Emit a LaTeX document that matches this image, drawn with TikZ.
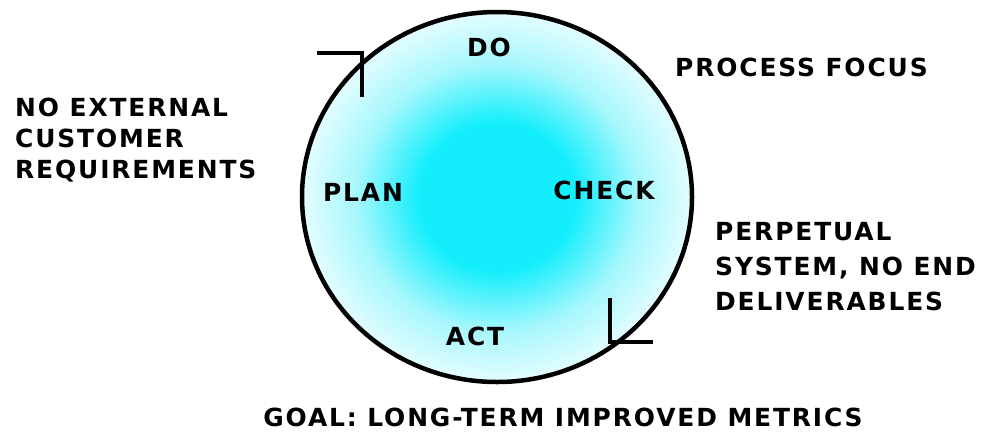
\documentclass[tikz,border=0pt]{standalone}
\usepackage{fontspec}
\setmainfont{DejaVu Sans}[LetterSpace=7.5]
\usetikzlibrary{shapes.geometric}
\definecolor{cyccore}{RGB}{20,238,252}
\definecolor{cycmid}{RGB}{165,247,253}
\definecolor{cycedge}{RGB}{228,253,255}
\pgfdeclareradialshading{cycshade}{\pgfpoint{0bp}{0bp}}{color(0bp)=(cyccore); color(10bp)=(cyccore); color(18bp)=(cycmid); color(25bp)=(cycedge); color(50bp)=(cycedge)}
\tikzset{
  lbl/.style={inner sep=0pt, font=\bfseries\fontsize{25}{31}\selectfont, text=black},
  sidetxt/.style={lbl, align=left, anchor=north west},
  tick/.style={line width=4.5bp, line cap=butt, line join=miter}
}
\begin{document}
\begin{tikzpicture}[x=1bp,y=-1bp]
\useasboundingbox[fill=white] (0,0) rectangle (989,432);
\node[ellipse, draw=black, line width=4.5bp, minimum width=390bp, minimum height=370bp,
  shading=cycshade, inner sep=0pt] (cyc) at (497,197) {};
% stages
\node[lbl] (do) at (489,47) {DO};
\node[lbl] (plan) at (363,192) {PLAN};
\node[lbl] (check) at (604,190) {CHECK};
\node[lbl] (act) at (475,336) {ACT};
% arrowheads
\coordinate (a1) at (317,53);
\coordinate (a1c) at (362,53);
\coordinate (a1e) at (362,97);
\draw[tick] (a1) -- (a1c) -- (a1e);
\coordinate (a2) at (610,298);
\coordinate (a2c) at (610,342);
\coordinate (a2e) at (653,342);
\draw[tick] (a2) -- (a2c) -- (a2e);
% side notes
\node[lbl, anchor=west] (focus) at (675,67) {PROCESS FOCUS};
\node[sidetxt] (left) at (15,98) {NO EXTERNAL\\CUSTOMER\\REQUIREMENTS};
\node[sidetxt, font=\bfseries\fontsize{25}{35}\selectfont] (right) at (715,222) {PERPETUAL\\SYSTEM, NO END\\DELIVERABLES};
\node[lbl] (goal) at (563,417) {GOAL: LONG-TERM IMPROVED METRICS};
\end{tikzpicture}
\end{document}
